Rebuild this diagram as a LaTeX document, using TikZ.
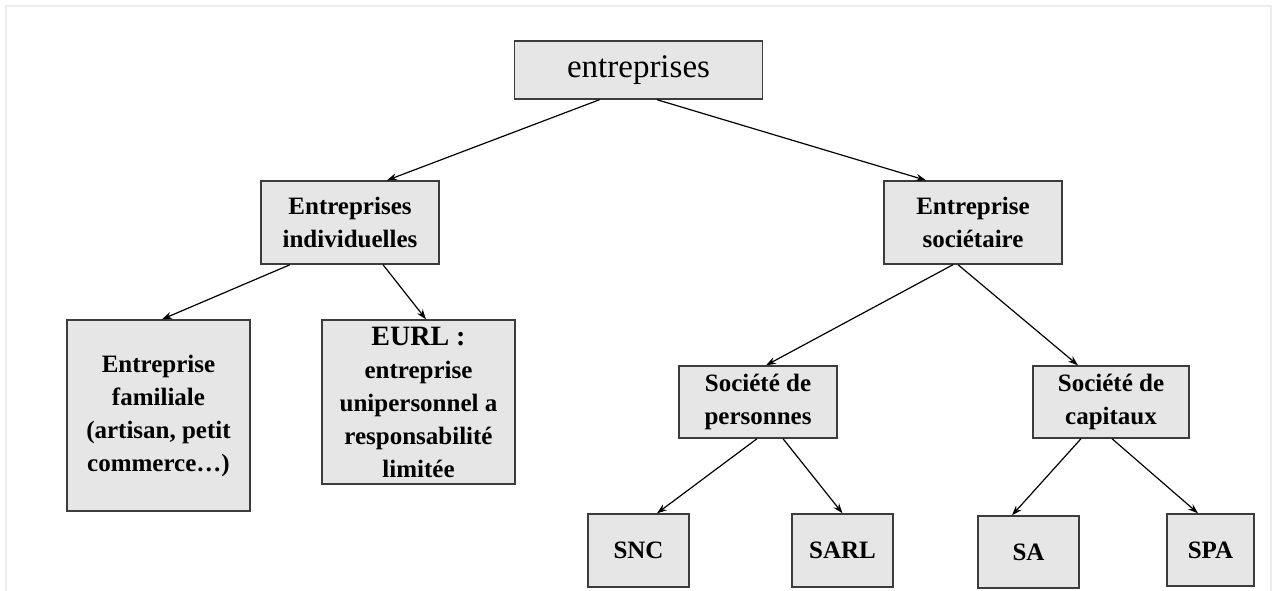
\documentclass[tikz,border=0pt]{standalone}
\usepackage{fontspec}
\setmainfont{Liberation Serif}
\usetikzlibrary{arrows.meta,positioning}

\definecolor{boxfill}{HTML}{E6E6E6}
\definecolor{boxline}{HTML}{3C3C3C}
\definecolor{framegray}{HTML}{EDEDED}

\tikzset{
  boite/.style={draw=boxline,fill=boxfill,line width=1.4pt,align=center,inner sep=0pt,
    font=\bfseries\fontsize{25}{33}\selectfont},
}

\begin{document}
\begin{tikzpicture}[x=1pt,y=-1pt,->,>={Stealth[length=10pt,width=7pt]},line width=1.2pt]
  \useasboundingbox (0,0) rectangle (1282,590);
  \draw[-,framegray,line width=2pt] (6,600) -- (6,6) -- (1271,6) -- (1271,600);

  % niveau 1
  \node[boite,minimum width=248pt,minimum height=58pt,font=\fontsize{33}{40}\selectfont] (ent) at (638.5,70) {entreprises};
  % niveau 2
  \node[boite,minimum width=178pt,minimum height=83pt] (ind) at (350,222.5) {Entreprises\\individuelles};
  \node[boite,minimum width=178pt,minimum height=83pt] (soc) at (973,222.5) {Entreprise\\sociétaire};
  % niveau 3
  \node[boite,minimum width=183pt,minimum height=191pt] (fam) at (158.5,415.5) {Entreprise\\familiale\\(artisan, petit\\commerce…)};
  \node[boite,minimum width=193pt,minimum height=164pt] (eurl) at (418.5,402) {{\fontsize{28}{33}\selectfont EURL :}\\entreprise\\unipersonnel a\\responsabilité\\limitée};
  \node[boite,minimum width=158pt,minimum height=72pt] (pers) at (758,402) {Société de\\personnes};
  \node[boite,minimum width=156pt,minimum height=72pt] (capi) at (1111,402) {Société de\\capitaux};
  % niveau 4
  \node[boite,minimum width=101pt,minimum height=73pt] (snc) at (638.5,550.5) {SNC};
  \node[boite,minimum width=101pt,minimum height=73pt] (sarl) at (842.5,550.5) {SARL};
  \node[boite,minimum width=101pt,minimum height=72pt] (sa) at (1028.5,552) {SA};
  \node[boite,minimum width=87pt,minimum height=72pt] (spa) at (1210.5,550) {SPA};

  \draw ([xshift=-39pt]ent.south) -- ([xshift=37pt]ind.north);
  \draw ([xshift=18.5pt]ent.south) -- ([xshift=-47pt]soc.north);
  \draw ([xshift=-60pt]ind.south) -- ([xshift=3.5pt]fam.north);
  \draw ([xshift=33pt]ind.south) -- ([xshift=7.5pt]eurl.north);
  \draw ([xshift=-20pt]soc.south) -- ([xshift=8pt]pers.north);
  \draw ([xshift=-15pt]soc.south) -- ([xshift=-33pt]capi.north);
  \draw ([xshift=-1pt]pers.south) -- ([xshift=18.5pt]snc.north);
  \draw ([xshift=25pt]pers.south) -- (sarl.north);
  \draw ([xshift=-30pt]capi.south) -- ([xshift=-16.5pt]sa.north);
  \draw ([xshift=1pt]capi.south) -- ([xshift=-12.5pt]spa.north);
\end{tikzpicture}
\end{document}
